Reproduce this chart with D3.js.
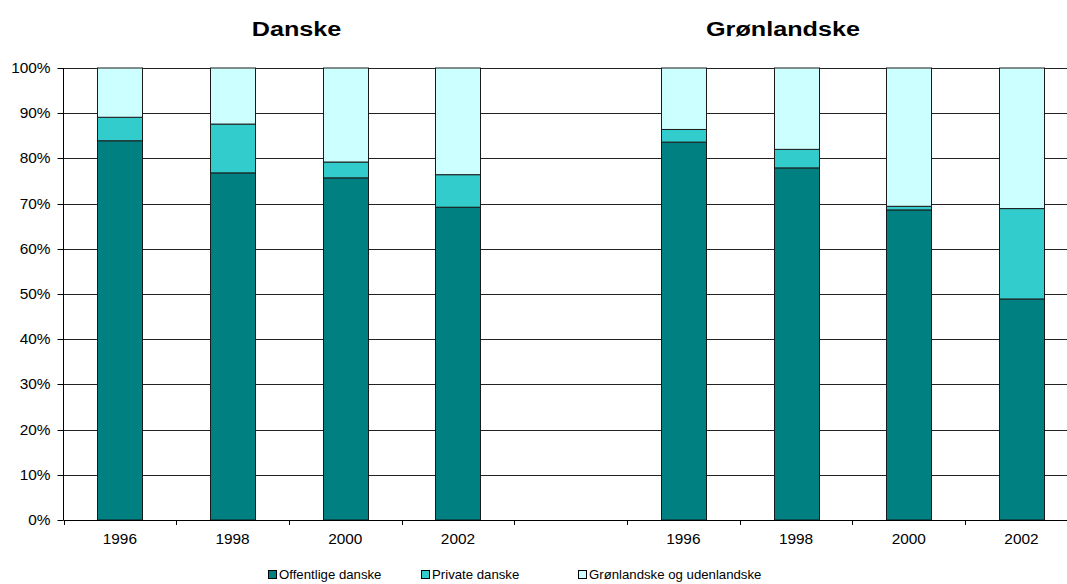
<!DOCTYPE html>
<html><head><meta charset="utf-8">
<script src="https://cdn.jsdelivr.net/npm/d3@7"></script>
<style>body{margin:0;background:#fff;}svg{display:block;font-family:"Liberation Sans",Arial,sans-serif;}</style>
</head><body><svg id="c" width="1067" height="584"></svg>
<script>
const categories = ["1996","1998","2000","2002","","1996","1998","2000","2002"];
const groupTitles = ["Danske","Grønlandske"];
const seriesNames = ["Offentlige danske","Private danske","Grønlandske og udenlandske"];
const offentlige = [83.9, 76.8, 75.7, 69.2, null, 83.6, 77.9, 68.6, 48.9];
const privat     = [5.2, 10.8, 3.5, 7.2, null, 2.8, 4.1, 0.8, 20.0];
const groenl     = [10.9, 12.4, 20.8, 23.6, null, 13.6, 18.0, 30.6, 31.1];
const yTicks = [0,10,20,30,40,50,60,70,80,90,100];
const colors = ["#008080","#33CCCC","#CCFFFF"];

(function(){
const svg = d3.select("#c");
const pL = 63.5, pT = 68, pB = 520;
const step = 112.7;
const sx = 1.1;
const x = d3.scaleBand().domain(d3.range(categories.length))
  .range([pL, pL + step*categories.length]).paddingInner(0.6).paddingOuter(0.3);
const y = d3.scaleLinear().domain([0,100]).range([pB, pT]);

svg.append("g").selectAll("line").data(yTicks.filter(t=>t>0)).join("line")
  .attr("x1", pL).attr("x2", 1067).attr("y1", d=>Math.round(y(d))+0.5).attr("y2", d=>Math.round(y(d))+0.5)
  .attr("stroke", "#222").attr("stroke-width", 1);

const rows = categories.map((c,i)=>({i, a: offentlige[i], b: privat[i], c: groenl[i]}));
const stack = d3.stack().keys(["a","b","c"]);
const series = stack(rows.filter(r=>r.a!=null));
svg.append("g").selectAll("g").data(series).join("g")
  .attr("fill", (d,k)=>colors[k])
  .selectAll("rect").data(d=>d).join("rect")
  .attr("x", d=>Math.round(x(d.data.i))+0.5)
  .attr("width", Math.round(x.bandwidth()))
  .attr("y", d=>y(d[1]))
  .attr("height", d=>y(d[0])-y(d[1]))
  .attr("stroke", "#1a1a1a").attr("stroke-width", 1);

const ax = svg.append("g");
ax.append("line").attr("x1", pL).attr("x2", pL).attr("y1", pT).attr("y2", pB).attr("stroke","#000");
ax.append("line").attr("x1", pL).attr("x2", 1067).attr("y1", pB+0.5).attr("y2", pB+0.5).attr("stroke","#000");
ax.selectAll(".yt").data(yTicks).join("line")
  .attr("x1", pL-6).attr("x2", pL).attr("y1", d=>Math.round(y(d))+0.5).attr("y2", d=>Math.round(y(d))+0.5).attr("stroke","#000");
ax.selectAll(".yl").data(yTicks).join("text")
  .attr("transform", d=>`translate(${pL-13},${y(d)}) scale(${sx},1)`)
  .attr("dy","0.35em").attr("text-anchor","end")
  .attr("font-size", 14).attr("fill","#000").text(d=>d+"%");
const bounds = d3.range(categories.length+1).map(i=>pL + i*step);
ax.selectAll(".xt").data(bounds).join("line")
  .attr("x1", d=>Math.round(d)+0.5).attr("x2", d=>Math.round(d)+0.5).attr("y1", pB).attr("y2", pB+5).attr("stroke","#000");
ax.selectAll(".xl").data(categories.map((c,i)=>({c,i}))).join("text")
  .attr("transform", d=>`translate(${x(d.i)+x.bandwidth()/2},539.5) scale(${sx},1)`)
  .attr("dy","0.35em").attr("text-anchor","middle")
  .attr("font-size", 14).text(d=>d.c);

const titleX = [296.5, 783];
svg.selectAll(".gt").data(groupTitles).join("text")
  .attr("transform",(d,i)=>`translate(${titleX[i]},28.5) scale(1.2,1)`)
  .attr("dy","0.35em").attr("text-anchor","middle")
  .attr("font-size", 21).attr("font-weight","bold").text(d=>d);

const legX = [268, 421, 578];
const leg = svg.append("g").selectAll("g").data(seriesNames).join("g")
  .attr("transform",(d,i)=>`translate(${legX[i]},575)`);
leg.append("rect").attr("x",0.5).attr("y",-4.5).attr("width",8).attr("height",8)
  .attr("fill",(d,i)=>colors[i]).attr("stroke","#000");
leg.append("text").attr("transform",`translate(11,0) scale(${sx},1)`).attr("dy","0.35em").attr("font-size",12).text(d=>d);
})();
</script></body></html>
